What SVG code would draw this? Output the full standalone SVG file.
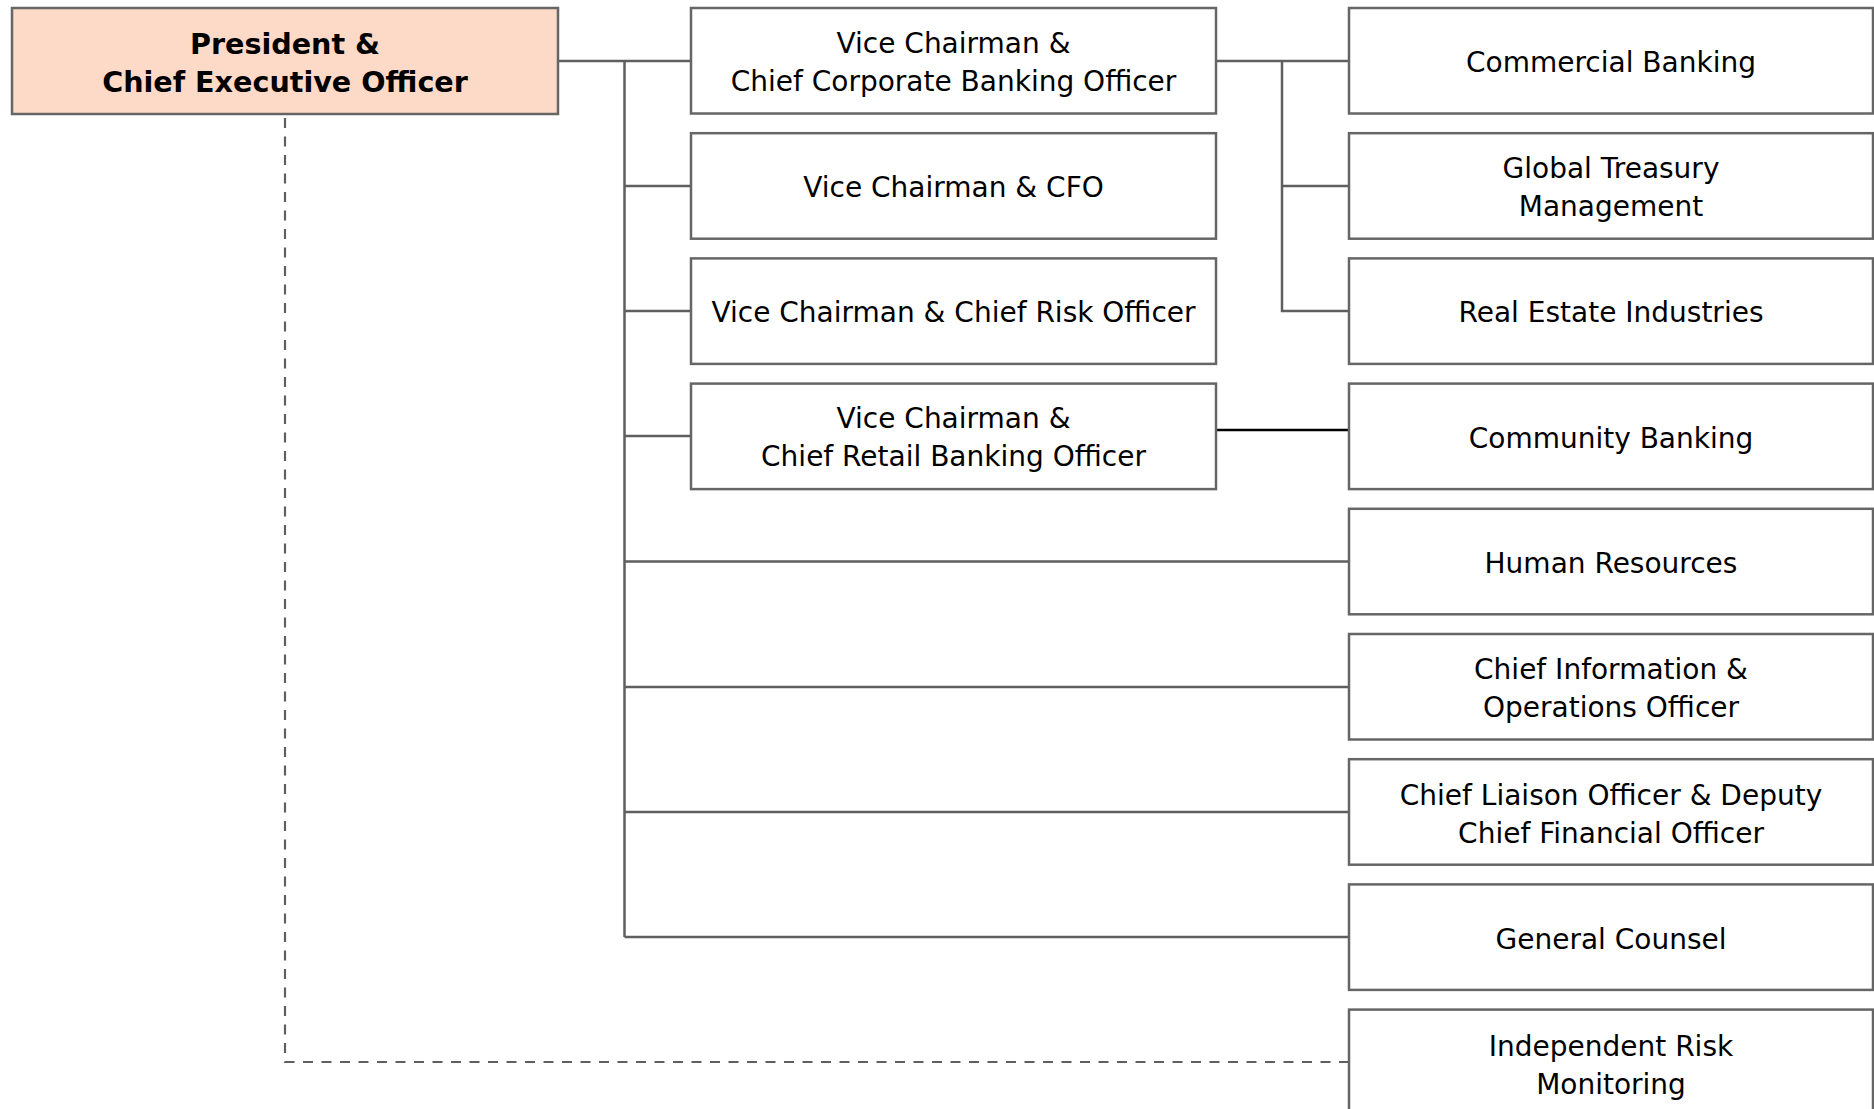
<svg xmlns="http://www.w3.org/2000/svg" width="1874" height="1109" viewBox="0 0 1874 1109">
<style>
.box{fill:#ffffff;stroke:#666666;stroke-width:2.5}
.ceo{fill:#fdd9c8;stroke:#666666;stroke-width:2.5}
.t{font-family:"DejaVu Sans",Verdana,sans-serif;font-size:28px;fill:#000000;text-anchor:middle;dominant-baseline:central}
.tb{font-weight:bold;font-size:28.6px}
.ln{fill:none;stroke:#5f5f5f;stroke-width:2.5}
.blk{fill:none;stroke:#000000;stroke-width:2.5}
.dash{fill:none;stroke:#5f5f5f;stroke-width:2.2;stroke-dasharray:10 8.5}
</style>
<rect width="1874" height="1109" fill="#ffffff"/>
<g id="connectors">
<path class="ln" d="M558 61H691M624.5 61V937M624.5 186H691M624.5 311H691M624.5 436H691M624.5 561.5H1349M624.5 687H1349M624.5 812H1349M624.5 937H1349"/>
<path class="ln" d="M1216 61H1349M1282 61V311H1349M1282 186H1349"/>
<path class="blk" d="M1216 430H1349"/>
<path class="dash" d="M285 118V1062H1349"/>
</g>
<g id="ceo">
<rect class="ceo" x="12" y="8" width="546" height="106"/>
<text class="t tb" x="285" y="44">President &amp;</text>
<text class="t tb" x="285" y="82">Chief Executive Officer</text>
</g>
<g id="vc-corporate">
<rect class="box" x="691" y="8" width="525" height="105.5"/>
<text class="t" x="953.5" y="43">Vice Chairman &amp;</text>
<text class="t" x="953.5" y="81">Chief Corporate Banking Officer</text>
</g>
<g id="vc-cfo">
<rect class="box" x="691" y="133.2" width="525" height="105.5"/>
<text class="t" x="953.5" y="187">Vice Chairman &amp; CFO</text>
</g>
<g id="vc-risk">
<rect class="box" x="691" y="258.4" width="525" height="105.5"/>
<text class="t" x="953.5" y="312.2">Vice Chairman &amp; Chief Risk Officer</text>
</g>
<g id="vc-retail">
<rect class="box" x="691" y="383.6" width="525" height="105.5"/>
<text class="t" x="953.5" y="418.4">Vice Chairman &amp;</text>
<text class="t" x="953.5" y="456.4">Chief Retail Banking Officer</text>
</g>
<g id="commercial-banking">
<rect class="box" x="1349" y="8" width="524" height="105.5"/>
<text class="t" x="1611" y="62">Commercial Banking</text>
</g>
<g id="global-treasury">
<rect class="box" x="1349" y="133.2" width="524" height="105.5"/>
<text class="t" x="1611" y="168.5">Global Treasury</text>
<text class="t" x="1611" y="206.5">Management</text>
</g>
<g id="real-estate">
<rect class="box" x="1349" y="258.4" width="524" height="105.5"/>
<text class="t" x="1611" y="312.2">Real Estate Industries</text>
</g>
<g id="community-banking">
<rect class="box" x="1349" y="383.6" width="524" height="105.5"/>
<text class="t" x="1611" y="438">Community Banking</text>
</g>
<g id="human-resources">
<rect class="box" x="1349" y="508.8" width="524" height="105.5"/>
<text class="t" x="1611" y="563">Human Resources</text>
</g>
<g id="cio">
<rect class="box" x="1349" y="634" width="524" height="105.5"/>
<text class="t" x="1611" y="669.5">Chief Information &amp;</text>
<text class="t" x="1611" y="707.5">Operations Officer</text>
</g>
<g id="clo">
<rect class="box" x="1349" y="759.2" width="524" height="105.5"/>
<text class="t" x="1611" y="795">Chief Liaison Officer &amp; Deputy</text>
<text class="t" x="1611" y="833">Chief Financial Officer</text>
</g>
<g id="general-counsel">
<rect class="box" x="1349" y="884.4" width="524" height="105.5"/>
<text class="t" x="1611" y="939">General Counsel</text>
</g>
<g id="independent-risk">
<rect class="box" x="1349" y="1009.6" width="524" height="105.5"/>
<text class="t" x="1611" y="1046">Independent Risk</text>
<text class="t" x="1611" y="1084">Monitoring</text>
</g>
</svg>
